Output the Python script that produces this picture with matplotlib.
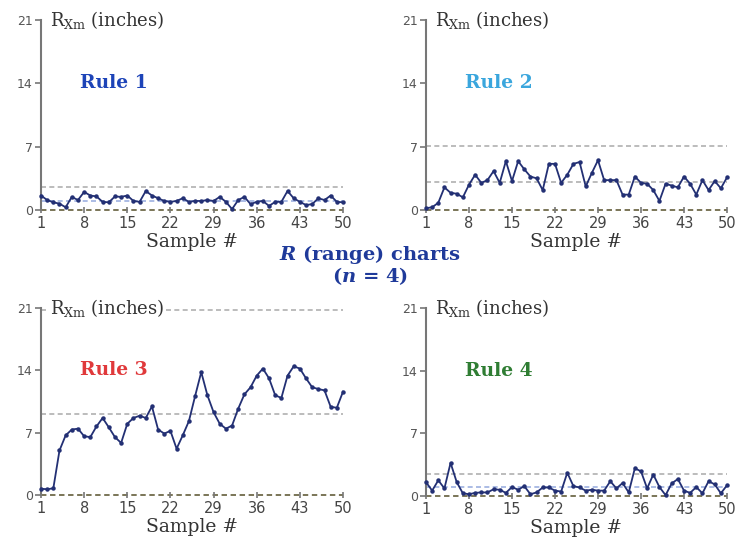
import numpy as np
import matplotlib.pyplot as plt

# range values per sample for each rule (inches)
samples = np.arange(1, 51)
rule1 = [1.6, 1.1, 0.85, 0.7, 0.3, 1.45, 1.1, 2.0, 1.6, 1.5,
         0.9, 0.85, 1.5, 1.45, 1.6, 1.0, 0.9, 2.1, 1.6, 1.3,
         1.0, 0.9, 1.0, 1.3, 0.9, 1.0, 1.0, 1.1, 1.0, 1.45,
         0.9, 0.1, 1.1, 1.45, 0.65, 0.9, 1.0, 0.45, 0.9, 0.9,
         2.1, 1.3, 0.9, 0.55, 0.65, 1.3, 1.1, 1.6, 0.9, 0.85]
rule2 = [0.2, 0.3, 0.8, 2.5, 1.9, 1.8, 1.4, 2.8, 3.9, 3.0,
         3.3, 4.3, 3.0, 5.4, 3.2, 5.4, 4.5, 3.7, 3.5, 2.2,
         5.1, 5.1, 3.0, 3.9, 5.1, 5.3, 2.6, 4.1, 5.5, 3.3,
         3.3, 3.3, 1.7, 1.7, 3.7, 3.0, 2.9, 2.2, 1.0, 2.9,
         2.7, 2.5, 3.7, 2.9, 1.7, 3.3, 2.2, 3.2, 2.4, 3.6]
rule3 = [0.7, 0.65, 0.75, 5.0, 6.7, 7.35, 7.45, 6.6, 6.5, 7.7,
         8.65, 7.6, 6.5, 5.85, 8.0, 8.65, 8.9, 8.65, 9.95, 7.35,
         6.9, 7.2, 5.2, 6.7, 8.3, 11.1, 13.8, 11.2, 9.3, 8.0,
         7.45, 7.8, 9.7, 11.3, 12.1, 13.4, 14.2, 13.1, 11.2, 10.9,
         13.4, 14.45, 14.2, 13.1, 12.1, 11.9, 11.75, 9.9, 9.8, 11.6]
rule4 = [1.55, 0.6, 1.75, 0.85, 3.7, 1.55, 0.3, 0.2, 0.35, 0.4,
         0.4, 0.75, 0.7, 0.35, 1.0, 0.7, 1.1, 0.2, 0.4, 0.95,
         0.95, 0.6, 0.5, 2.6, 1.1, 0.95, 0.6, 0.7, 0.6, 0.6,
         1.65, 0.85, 1.45, 0.4, 3.1, 2.75, 0.85, 2.4, 1.0, 0.1,
         1.4, 1.9, 0.6, 0.35, 1.0, 0.3, 1.65, 1.3, 0.3, 1.2]

# control limits: upper limit and centre line
ucl = [2.5, 7.1, 20.8, 2.45]
center = [1.0, 3.1, 9.1, 1.0]
center_colors = ['#9db0e0', '#b0b0b0', '#b0b0b0', '#9db0e0']

rule_names = ['Rule 1', 'Rule 2', 'Rule 3', 'Rule 4']
rule_colors = ['#1d44b8', '#3aa6dd', '#e0393b', '#2f7d33']
xticks = [1, 8, 15, 22, 29, 36, 43, 50]
yticks = [0, 7, 14, 21]

# bold-italic serif for the R and n in the heading
plt.rcParams['mathtext.fontset'] = 'custom'
plt.rcParams['mathtext.rm'] = 'DejaVu Serif'
plt.rcParams['mathtext.it'] = 'DejaVu Serif:italic:bold'

W, H = 740, 558
fig = plt.figure(figsize=(W / 100, H / 100), dpi=100)

# axes boxes in pixels: left, top, right, bottom
boxes = [(41, 20, 343, 210), (426, 20, 727, 210),
         (41, 308, 343, 495), (426, 308, 727, 496)]
series = [rule1, rule2, rule3, rule4]

dash = (0, (3, 2))
for i, (l, t, r, b) in enumerate(boxes):
    ax = fig.add_axes([l / W, 1 - b / H, (r - l) / W, (b - t) / H])
    ax.set_xlim(1, 50)
    ax.set_ylim(0, 21)
    for s in ['top', 'right', 'bottom']:
        ax.spines[s].set_visible(False)
    ax.spines['left'].set_color('#777777')
    ax.spines['left'].set_linewidth(1.5)

    ax.axhline(ucl[i], color='#b0b0b0', ls=dash, lw=1.2, zorder=1)
    ax.axhline(center[i], color=center_colors[i], ls=dash, lw=1.2, zorder=1)
    ax.axhline(0, color='#6f6a4a', ls=dash, lw=1.3, zorder=1, clip_on=False)

    ax.plot(samples, series[i], color='#233074', lw=1.3, marker='o',
            ms=2.2, zorder=3, clip_on=False)

    ax.set_xticks(xticks)
    ax.set_yticks(yticks)
    ax.tick_params(axis='x', colors='#777777', length=4, width=1.2,
                   direction='inout', labelsize=10.5, labelcolor='#444444', pad=2)
    ax.tick_params(axis='y', colors='#777777', length=4, width=1.2,
                   labelsize=9, labelcolor='#555555', pad=2)
    ax.set_xlabel('Sample #', fontsize=13.5, family='DejaVu Serif',
                  color='#333333', labelpad=2)

    ax.text(0.03, 1.0, r'R$_{\mathrm{Xm}}$ (inches)', transform=ax.transAxes,
            fontsize=13, family='DejaVu Serif', color='#333333',
            va='center', ha='left', zorder=4,
            bbox=dict(facecolor='white', edgecolor='none', pad=1))
    ax.text(0.13, 14, rule_names[i], transform=ax.get_yaxis_transform(),
            fontsize=13.5, fontweight='bold', color=rule_colors[i],
            family='DejaVu Serif', va='center', ha='left')

fig.text(0.5, 1 - 254 / H, r'$R$ (range) charts', ha='center',
         va='center', fontsize=14, fontweight='bold', color='#1f3a9a',
         family='DejaVu Serif')
fig.text(0.5, 1 - 276 / H, r'($n$ = 4)', ha='center', va='center',
         fontsize=14, fontweight='bold', color='#1f3a9a', family='DejaVu Serif')

fig.savefig('out.png', dpi=100)
